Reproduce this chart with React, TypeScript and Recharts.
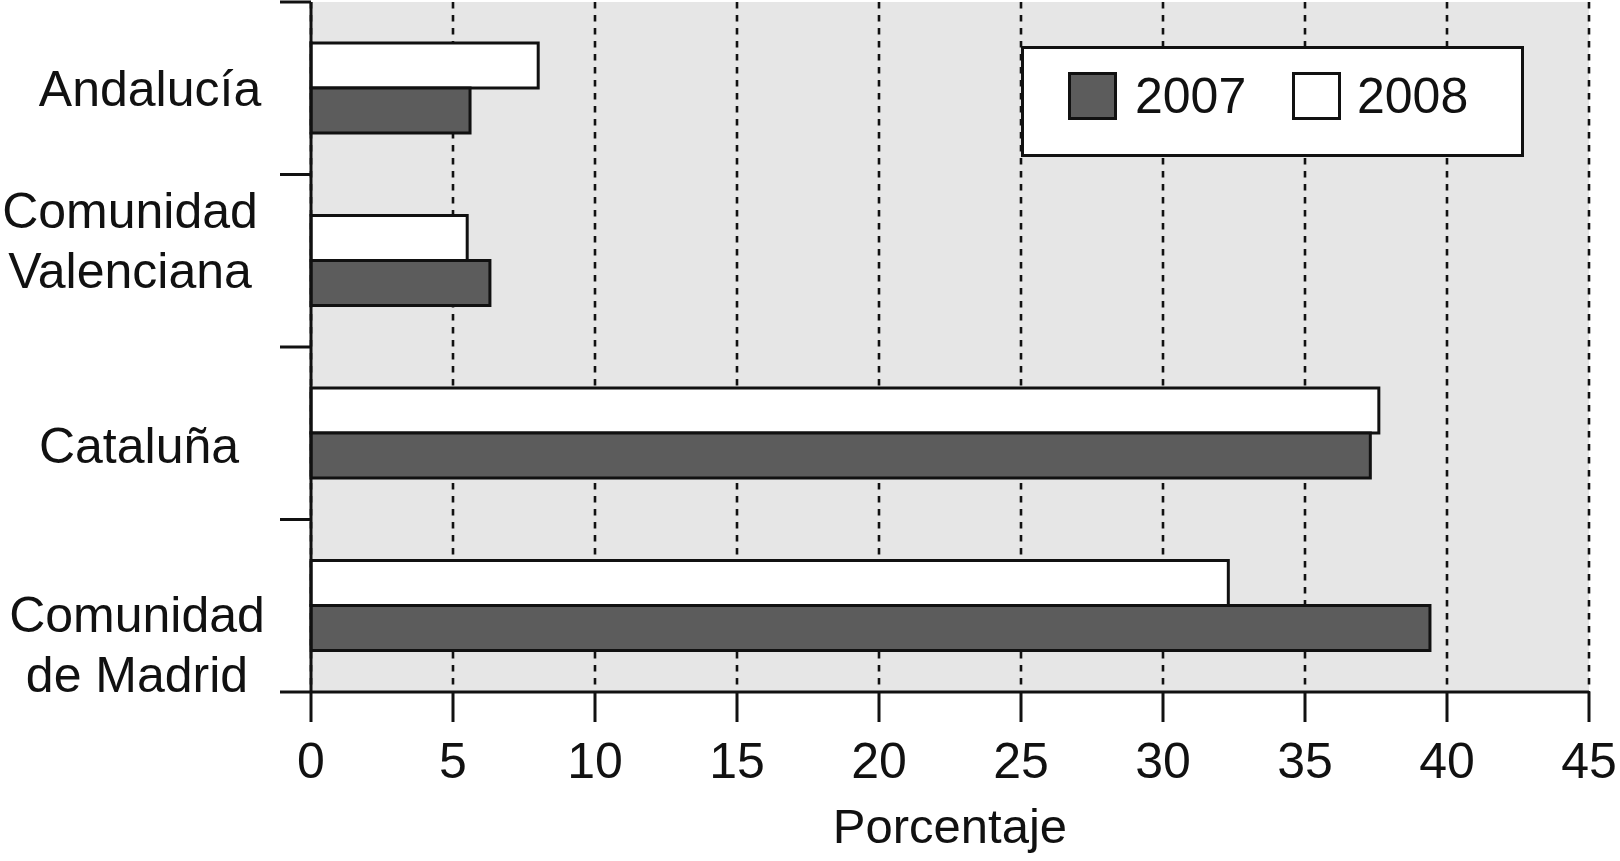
import { BarChart, Bar, XAxis, YAxis, CartesianGrid, Legend } from 'recharts';

const regions = ['Andalucía', 'Comunidad Valenciana', 'Cataluña', 'Comunidad de Madrid'];
// tick labels, broken over lines as in the original
const regionLines = [['Andalucía'], ['Comunidad', 'Valenciana'], ['Cataluña'], ['Comunidad', 'de Madrid']];
const values2007 = [5.6, 6.3, 37.3, 39.4];
const values2008 = [8.0, 5.5, 37.6, 32.3];
const xTicks = [0, 5, 10, 15, 20, 25, 30, 35, 40, 45];
const seriesNames = ['2007', '2008'];

const data = regions.map((region, i) => ({
  region,
  y2007: values2007[i],
  y2008: values2008[i],
}));

const W = 1620;
const H = 861;
const MARGIN = { top: 2, right: 31, bottom: 0, left: 0 };
const Y_AXIS_W = 311;
const X_AXIS_H = 169;
const PLOT_H = H - MARGIN.top - MARGIN.bottom - X_AXIS_H;
const BAND = PLOT_H / regions.length;

const FONT = '"Liberation Sans", Arial, sans-serif';
const INK = '#111';
const DARK = '#5c5c5c';

// small hand tweaks so the labels sit where the original put them
const labelShift = [0, -21, 12, 38];
const labelCenter = [150, 130, 139, 137];

const RegionTick = (props: any) => {
  const { y, payload } = props;
  const idx = props.index ?? payload?.index ?? regions.indexOf(payload?.value);
  const lines = regionLines[idx] || [String(payload?.value)];
  const first = y + 18 - (lines.length - 1) * 30 + labelShift[idx];
  return (
    <g>
      <line x1={280} x2={Y_AXIS_W} y1={y - BAND / 2} y2={y - BAND / 2} stroke={INK} strokeWidth={3} />
      {idx === regions.length - 1 && (
        <line x1={280} x2={Y_AXIS_W} y1={y + BAND / 2} y2={y + BAND / 2} stroke={INK} strokeWidth={3} />
      )}
      <text x={labelCenter[idx]} y={first} textAnchor="middle" fontFamily={FONT} fontSize={50} fill={INK}>
        {lines.map((line, i) => (
          <tspan key={i} x={labelCenter[idx]} dy={i === 0 ? 0 : 60}>
            {line}
          </tspan>
        ))}
      </text>
    </g>
  );
};

const LegendBox = () => {
  const fills = [DARK, '#fff'];
  return (
    <svg width={503} height={111} style={{ display: 'block' }}>
      <rect x={1.5} y={1.5} width={500} height={108} fill="#fff" stroke={INK} strokeWidth={3} />
      {seriesNames.map((name, i) => (
        <g key={name}>
          <rect x={48.5 + i * 224} y={27.5} width={46} height={45} fill={fills[i]} stroke={INK} strokeWidth={3} />
          <text x={114 + i * 222} y={67} fontFamily={FONT} fontSize={50} fill={INK}>
            {name}
          </text>
        </g>
      ))}
    </svg>
  );
};

export default function App() {
  return (
    <div style={{ width: W, height: H }}>
      <style>{'body{margin:0}'}</style>
      <BarChart width={W} height={H} data={data} layout="vertical" margin={MARGIN} barGap={0}>
        <CartesianGrid
          horizontal={false}
          stroke={INK}
          strokeWidth={2.6}
          strokeDasharray="6.5 6.5"
          fill="#e6e6e6"
          fillOpacity={1}
        />
        <XAxis
          type="number"
          domain={[0, 45]}
          ticks={xTicks}
          height={X_AXIS_H}
          tickSize={30}
          tickMargin={20}
          axisLine={{ stroke: INK, strokeWidth: 3 }}
          tickLine={{ stroke: INK, strokeWidth: 3 }}
          tick={{ fontSize: 50, fill: INK, fontFamily: FONT }}
          label={{ value: 'Porcentaje', position: 'insideBottom', offset: 18, fontSize: 49, fill: INK, fontFamily: FONT }}
        />
        <XAxis
          xAxisId="top"
          orientation="top"
          type="number"
          domain={[0, 45]}
          height={0}
          tick={false}
          tickLine={false}
          axisLine={{ stroke: INK, strokeWidth: 3 }}
        />
        <YAxis
          type="category"
          dataKey="region"
          width={Y_AXIS_W}
          interval={0}
          tickLine={false}
          axisLine={{ stroke: INK, strokeWidth: 3 }}
          tick={<RegionTick />}
        />
        <YAxis
          yAxisId="right"
          orientation="right"
          type="category"
          dataKey="region"
          width={0}
          tick={false}
          tickLine={false}
          axisLine={{ stroke: INK, strokeWidth: 3 }}
        />
        <Legend
          layout="horizontal"
          verticalAlign="middle"
          align="center"
          content={<LegendBox />}
          wrapperStyle={{ position: 'absolute', left: 1021, top: 46, width: 503, height: 111 }}
        />
        <Bar dataKey="y2008" name="2008" fill="#fff" stroke={INK} strokeWidth={3} barSize={45} isAnimationActive={false} />
        <Bar dataKey="y2007" name="2007" fill={DARK} stroke={INK} strokeWidth={3} barSize={45} isAnimationActive={false} />
      </BarChart>
    </div>
  );
}
